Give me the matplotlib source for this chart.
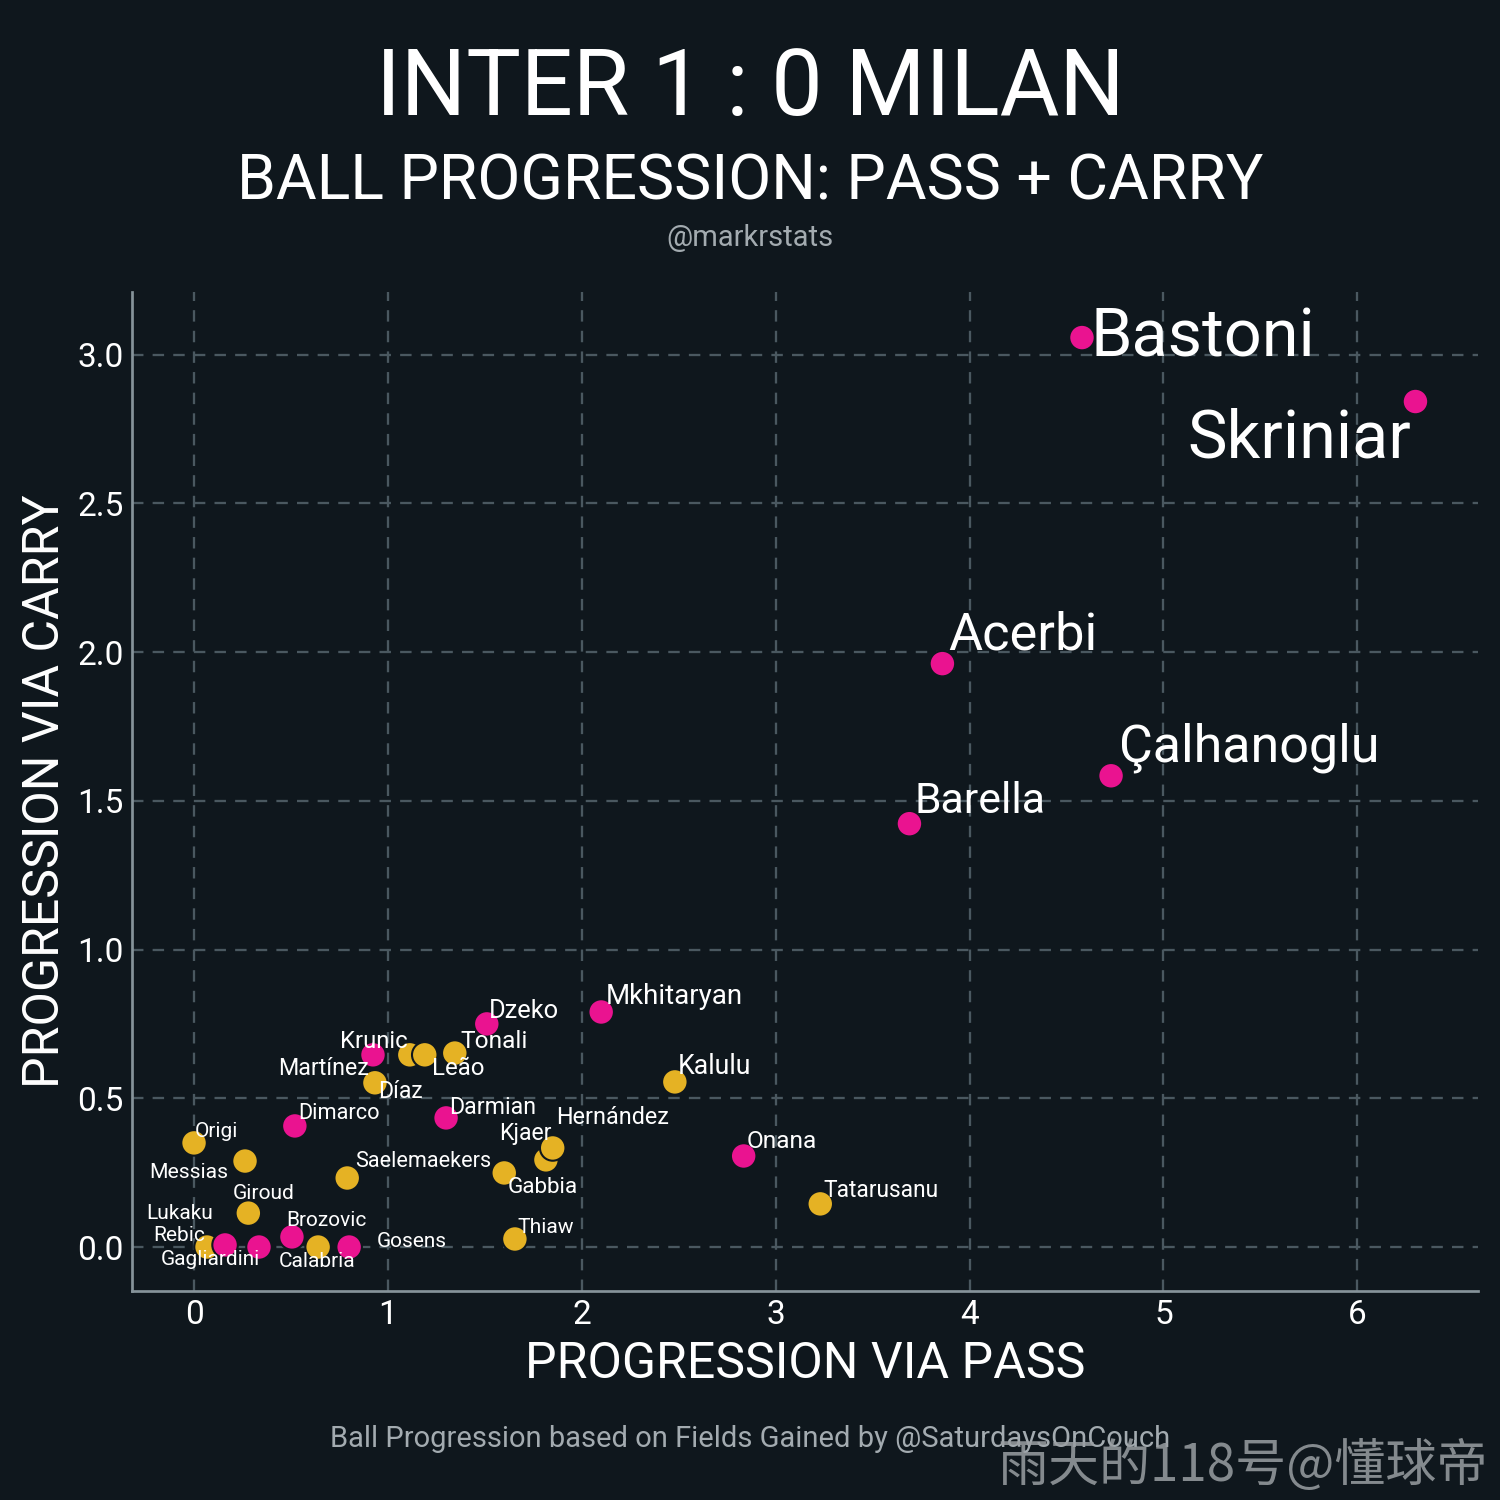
import matplotlib
matplotlib.use("Agg")
import matplotlib.pyplot as plt
import numpy as np

# ---------------- data ----------------
players = ["Bastoni", "Skriniar", "Acerbi", "Çalhanoglu", "Barella", "Mkhitaryan",
           "Dzeko", "Onana", "Martínez", "Krunic", "Leão", "Tonali", "Díaz", "Kalulu",
           "Tatarusanu", "Dimarco", "Darmian", "Kjaer", "Hernández", "Gabbia",
           "Saelemaekers", "Thiaw", "Origi", "Messias", "Giroud", "Rebic", "Lukaku",
           "Gagliardini", "Brozovic", "Calabria", "Gosens"]
teams = ["Inter", "Inter", "Inter", "Inter", "Inter", "Inter",
         "Inter", "Inter", "Inter", "Milan", "Milan", "Milan", "Milan", "Milan",
         "Milan", "Inter", "Inter", "Milan", "Milan", "Milan",
         "Milan", "Milan", "Milan", "Milan", "Milan", "Milan", "Inter",
         "Inter", "Inter", "Milan", "Inter"]
pass_prog = [4.58, 6.30, 3.86, 4.73, 3.69, 2.10,
             1.51, 2.835, 0.923, 1.113, 1.19, 1.345, 0.933, 2.48,
             3.23, 0.52, 1.30, 1.815, 1.85, 1.60,
             0.79, 1.655, 0.0, 0.263, 0.28, 0.067, 0.16,
             0.335, 0.505, 0.64, 0.80]
carry_prog = [3.057, 2.842, 1.961, 1.584, 1.423, 0.790,
              0.750, 0.306, 0.646, 0.646, 0.646, 0.652, 0.552, 0.555,
              0.145, 0.407, 0.434, 0.293, 0.333, 0.249,
              0.232, 0.027, 0.350, 0.289, 0.114, 0.0, 0.007,
              0.0, 0.034, 0.0, 0.0]
x_ticks = [0, 1, 2, 3, 4, 5, 6]
y_ticks = [0.0, 0.5, 1.0, 1.5, 2.0, 2.5, 3.0]

# ---------------- layout / style ----------------
BG = "#0f171d"
TEAM_COLORS = {"Inter": "#ea1390", "Milan": "#e5b224"}
FONT = "Roboto"
# label offsets (pixels: right, down) relative to the marker
label_offsets = {
    "Bastoni": (9, 19), "Skriniar": (-228, 56), "Acerbi": (6, -14),
    "Çalhanoglu": (8, -14), "Barella": (5, -11), "Mkhitaryan": (5, -8),
    "Dzeko": (2, -6), "Krunic": (-70, -7), "Tonali": (6, -5),
    "Martínez": (-95, 20), "Leão": (7, 20), "Díaz": (3, 15),
    "Kalulu": (3, -8), "Dimarco": (3, -7), "Darmian": (3, -4),
    "Hernández": (3, -24), "Kjaer": (-47, -20), "Origi": (1, -6),
    "Onana": (3, -8), "Messias": (-96, 17), "Saelemaekers": (8, -11),
    "Gabbia": (3, 20), "Giroud": (-16, -14), "Tatarusanu": (3, -7),
    "Lukaku": (-79, -26), "Brozovic": (-6, -11), "Thiaw": (3, -6),
    "Rebic": (-54, -6), "Gosens": (28, 0), "Gagliardini": (-98, 18),
    "Calabria": (-39, 20),
}

plt.rcParams["font.family"] = [FONT, "DejaVu Sans"]
DPI = 150
fig = plt.figure(figsize=(10, 10), dpi=DPI, facecolor=BG)
ax = fig.add_axes([0.088, 0.1393, 0.897, 0.666])
ax.set_facecolor(BG)

colors = [TEAM_COLORS[t] for t in teams]
ax.scatter(pass_prog, carry_prog, s=150, c=colors, edgecolors=BG,
           linewidths=1.0, zorder=3)

for name, xv, yv in zip(players, pass_prog, carry_prog):
    dx, dy = label_offsets[name]
    fs = min(10 + 2.0 * xv * yv, 32)
    ax.annotate(name, (xv, yv), xytext=(dx * 72 / DPI, -dy * 72 / DPI),
                textcoords="offset points", ha="left", va="baseline",
                color="white", fontsize=fs, zorder=4)

ax.set_xlim(-0.32, 6.62)
ax.set_ylim(-0.148, 3.21)
ax.set_xticks(x_ticks)
ax.set_yticks(y_ticks)
ax.set_xticklabels([str(v) for v in x_ticks])
ax.set_yticklabels([f"{v:.1f}" for v in y_ticks])
ax.tick_params(length=0, pad=4, labelsize=16, colors="white")
ax.grid(True, color="#4a5860", linestyle=(0, (5, 4)), linewidth=1.1, zorder=0)
ax.set_axisbelow(True)
for side in ["top", "right"]:
    ax.spines[side].set_visible(False)
for side in ["left", "bottom"]:
    ax.spines[side].set_color("#86939a")
    ax.spines[side].set_linewidth(1.3)

ax.set_xlabel("PROGRESSION VIA PASS", color="white", fontsize=24, labelpad=4)
ax.set_ylabel("PROGRESSION VIA CARRY", color="white", fontsize=24, labelpad=4)

fig.text(0.5, 1 - 115 / 1500, "INTER 1 : 0 MILAN", ha="center", va="baseline",
         color="white", fontsize=44)
fig.text(0.5, 1 - 200 / 1500, "BALL PROGRESSION: PASS + CARRY", ha="center",
         va="baseline", color="white", fontsize=30)
fig.text(0.5, 1 - 246 / 1500, "@markrstats", ha="center", va="baseline",
         color="#a3abb0", fontsize=14)
fig.text(0.5, 1 - 1447 / 1500,
         "Ball Progression based on Fields Gained by @SaturdaysOnCouch",
         ha="center", va="baseline", color="#a3abb0", fontsize=14)
fig.text(1 - 12 / 1500, 1 - 1481 / 1500, "雨天的118号@懂球帝", ha="right",
         va="baseline", color="#9a9fa3", alpha=0.85, fontsize=24.5,
         family=["Noto Sans CJK SC", "DejaVu Sans"])

fig.savefig("out.png", dpi=DPI, facecolor=BG)
